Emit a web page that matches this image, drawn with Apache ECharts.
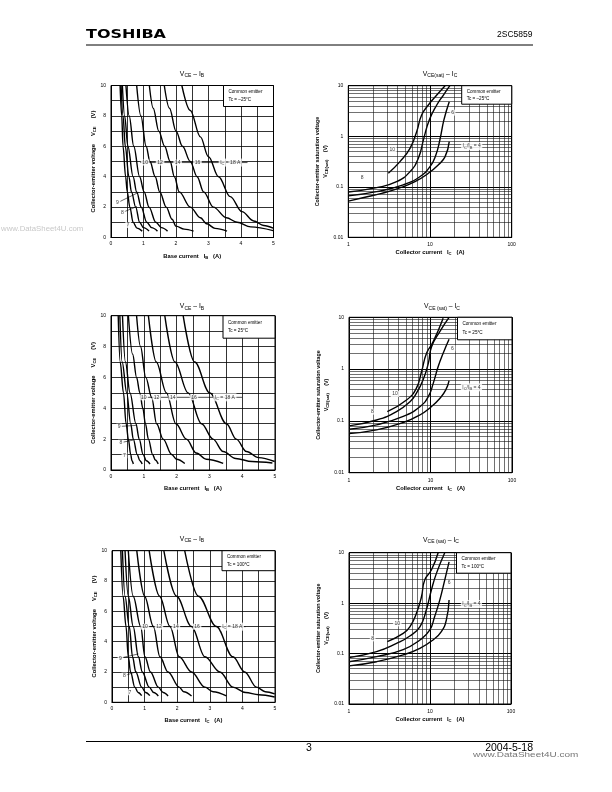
<!DOCTYPE html>
<html>
<head>
<meta charset="utf-8">
<script src="https://cdn.jsdelivr.net/npm/echarts@6/dist/echarts.min.js"></script>
<style>
  html, body { margin: 0; padding: 0; background: #fff; }
  #page { width: 612px; height: 792px; }
</style>
</head>
<body>
<div id="page"></div>
<script>
// ---- VCE - IB curves, [IB (A), VCE (V)] ----
const icLevels = [7, 8, 9, 10, 12, 14, 16, 18];

// Tc = -25 C
const tm25_ic7  = [[0.28,10],[0.33,8],[0.37,6],[0.45,4],[0.5,3],[0.58,2],[0.68,1],[0.8,0.62],[0.96,0.42]];
const tm25_ic8  = [[0.31,10],[0.37,8],[0.44,6],[0.55,4],[0.63,3],[0.76,2],[0.88,1],[1.0,0.65],[1.17,0.42]];
const tm25_ic9  = [[0.35,10],[0.42,8],[0.52,6],[0.68,4],[0.79,3],[0.93,2],[1.1,1],[1.25,0.65],[1.43,0.42]];
const tm25_ic10 = [[0.46,10],[0.56,8],[0.7,6],[0.88,4],[1.02,3],[1.17,2],[1.38,1],[1.55,0.65],[1.74,0.42]];
const tm25_ic12 = [[0.79,10],[0.92,8],[1.08,6],[1.2,5],[1.36,4],[1.5,3],[1.7,2],[1.88,1.2],[2.0,0.75],[2.25,0.55],[2.54,0.42]];
const tm25_ic14 = [[1.18,10],[1.3,8.5],[1.47,7],[1.65,6],[1.82,5],[1.95,4],[2.1,3],[2.44,2],[2.75,1.3],[2.95,0.9],[3.2,0.6],[3.57,0.42]];
const tm25_ic16 = [[1.64,10],[1.8,8.5],[2.0,7],[2.2,6],[2.44,5],[2.65,4],[2.85,3],[3.15,2],[3.55,1.3],[3.88,1.0],[4.3,0.7],[4.99,0.45]];
const tm25_ic18 = [[2.18,10],[2.44,8.36],[2.75,6.62],[3.0,5.31],[3.31,4.0],[3.67,2.69],[4.03,1.7],[4.39,1.09],[4.7,0.79],[4.99,0.61]];

// Tc = 25 C
const t25_ic7  = [[0.22,10],[0.28,7],[0.38,5],[0.46,3],[0.53,2],[0.6,1],[0.64,0.6],[0.68,0.39]];
const t25_ic8  = [[0.27,10],[0.34,7],[0.48,5],[0.6,3],[0.68,2],[0.8,1],[0.88,0.6],[0.95,0.39]];
const t25_ic9  = [[0.35,10],[0.44,7],[0.58,5],[0.76,3],[0.86,2],[0.98,1],[1.08,0.6],[1.19,0.39]];
const t25_ic10 = [[0.53,10],[0.66,7.5],[0.78,6],[0.88,5],[0.97,4],[1.05,3],[1.14,2],[1.27,1],[1.35,0.65],[1.44,0.4]];
const t25_ic12 = [[0.78,10],[0.9,8],[1.06,6],[1.24,4.7],[1.39,3],[1.59,2],[1.85,1],[2.0,0.7],[2.25,0.42]];
const t25_ic14 = [[1.14,10],[1.38,7],[1.69,5],[1.98,3],[2.3,2],[2.6,1.1],[2.9,0.7],[3.42,0.43]];
const t25_ic16 = [[1.64,10],[1.95,7],[2.35,5],[2.76,3],[3.11,2],[3.42,1.2],[3.8,0.75],[4.3,0.55],[4.92,0.45]];
const t25_ic18 = [[2.2,10],[2.55,7],[3.01,5],[3.52,3],[3.82,2],[4.13,1.2],[4.5,0.8],[4.99,0.55]];

// Tc = 100 C
const t100_ic7  = [[0.27,10],[0.34,7],[0.43,5],[0.5,3],[0.57,2],[0.7,1],[0.8,0.65],[0.91,0.44]];
const t100_ic8  = [[0.32,10],[0.4,7],[0.53,5],[0.63,3],[0.73,2],[0.91,1],[1.03,0.65],[1.16,0.44]];
const t100_ic9  = [[0.4,10],[0.5,7],[0.65,5],[0.81,3],[0.93,2],[1.14,1],[1.28,0.65],[1.42,0.42]];
const t100_ic10 = [[0.5,10],[0.65,7],[0.88,5],[1.01,3],[1.18,2],[1.42,1],[1.57,0.65],[1.72,0.42]];
const t100_ic12 = [[0.76,10],[1.0,7],[1.27,5],[1.47,3],[1.72,2],[2.06,1],[2.2,0.7],[2.44,0.42]];
const t100_ic14 = [[1.14,10],[1.46,7],[1.78,5],[2.06,3],[2.44,2],[2.85,1],[3.1,0.7],[3.51,0.42]];
const t100_ic16 = [[1.59,10],[1.98,7],[2.44,5],[2.85,3],[3.31,2],[3.71,1],[4.1,0.65],[4.5,0.5],[4.99,0.35]];
const t100_ic18 = [[2.23,10],[2.65,7],[3.2,5],[3.71,3],[4.07,2],[4.43,1],[4.7,0.7],[4.99,0.55]];

// ---- VCE(sat) - IC curves, [IC (A), VCE(sat) (V)], IC/IB = 10, 8, 6, 4 ----
const satM25_r10 = [[3.09,0.185],[4.29,0.314],[5.69,0.576],[6.87,1.23],[7.9,2.63],[9.55,4.15],[12.1,6.53],[15.3,10]];
const satM25_r8  = [[1,0.079],[2.22,0.096],[3.9,0.126],[5.69,0.199],[7.2,0.366],[8.4,0.908],[9.8,2.1],[12.1,4.15],[14.6,6.53],[17.5,10]];
const satM25_r6  = [[1,0.066],[2.22,0.08],[4.7,0.109],[7.5,0.158],[10,0.25],[11.8,0.426],[13.2,0.843],[14.8,2.1],[17.2,4.83]];
const satM25_r4  = [[1,0.052],[1.6,0.062],[2.56,0.074],[4.1,0.093],[6.55,0.126],[9.55,0.185],[12.6,0.27],[15.3,0.394],[17.2,0.78]];

const sat25_r10 = [[2.95,0.151],[5.08,0.253],[6.7,0.425],[7.76,0.89],[8.94,2.02],[10.8,3.39],[14.3,9.6]];
const sat25_r8  = [[1,0.08],[2.18,0.104],[3.83,0.151],[5.6,0.235],[6.7,0.34],[8.1,0.615],[9.4,1.29],[10.3,2.71],[13,5.3],[16.9,10]];
const sat25_r6  = [[1,0.069],[2.18,0.084],[4.63,0.122],[7.4,0.188],[9.4,0.294],[10.8,0.53],[12.4,1.11],[14.3,2.02],[16.9,3.76]];
const sat25_r4  = [[1,0.057],[2.18,0.067],[4.63,0.093],[7.4,0.13],[10.3,0.19],[13,0.27],[15.4,0.396],[16.9,0.6]];

const sat100_r10 = [[2.97,0.172],[4.67,0.251],[5.64,0.34],[6.8,0.627],[7.85,1.34],[8.6,2.87],[10.4,4.53],[12.6,10]];
const sat100_r8  = [[1,0.083],[2.19,0.109],[3.86,0.159],[5.64,0.223],[7.5,0.34],[9.0,0.73],[10.4,1.82],[12.0,3.89],[15.2,10]];
const sat100_r6  = [[1,0.069],[2.19,0.087],[4.67,0.12],[7.5,0.186],[9.9,0.29],[11.4,0.538],[13.2,1.15],[15.2,2.87],[17.2,6.6]];
const sat100_r4  = [[1,0.057],[2.19,0.069],[4.67,0.094],[7.5,0.127],[10.9,0.186],[13.8,0.272],[15.9,0.46],[17.2,1.15]];

// ---- tick / grid values ----
const linXTicks = [0, 1, 2, 3, 4, 5];
const linYTicks = [0, 2, 4, 6, 8, 10];
const logXMinor = [2,3,4,5,6,7,8,9,20,30,40,50,60,70,80,90];
const logYMinor = [0.02,0.03,0.04,0.05,0.06,0.07,0.08,0.09,0.2,0.3,0.4,0.5,0.6,0.7,0.8,0.9,2,3,4,5,6,7,8,9];

// ---- curve labels [x, y, text] ----
const lblM25 = [[1.05,4.93,'10'],[1.51,4.93,'12'],[2.05,4.93,'14'],[2.66,4.93,'16'],[3.67,4.93,'I{s|C} = 18 A'],[0.2,2.27,'9'],[0.35,1.64,'8'],[0.53,0.82,'7']];
const lbl25  = [[1.0,4.71,'10'],[1.39,4.71,'12'],[1.88,4.71,'14'],[2.53,4.71,'16'],[3.47,4.71,'I{s|C} = 18 A'],[0.25,2.81,'9'],[0.3,1.77,'8'],[0.41,0.95,'7']];
const lbl100 = [[1.01,4.99,'10'],[1.44,4.99,'12'],[1.96,4.99,'14'],[2.61,4.99,'16'],[3.69,4.99,'I{s|C} = 18 A'],[0.26,2.9,'9'],[0.38,1.76,'8'],[0.55,0.66,'7']];
const leadM25 = [[0.9,4.93],[4.2,4.93]];
const lead25  = [[0.88,4.71],[4.0,4.71]];
const lead100 = [[0.88,4.99],[4.1,4.99]];
const arrM25 = [[[0.26,2.35],[0.85,2.97]], [[0.41,1.7],[0.8,2.04]]];
const arr25  = [[[0.31,2.83],[0.76,2.89]], [[0.36,1.8],[0.68,1.94]]];
const arr100 = [[[0.32,2.95],[0.81,3.19]], [[0.44,1.8],[0.76,2.02]]];

const lblSatM25 = [[3.46,0.55,'10'],[1.48,0.154,'8'],[18.9,2.93,'6'],[32.4,0.64,'I{s|C}/I{s|B} = 4']];
const lblSat25  = [[3.66,0.33,'10'],[1.93,0.151,'8'],[18.6,2.52,'6'],[31.8,0.445,'I{s|C}/I{s|B} = 4']];
const lblSat100 = [[3.94,0.397,'10'],[1.96,0.2,'8'],[17.2,2.54,'6'],[32.5,0.96,'I{s|C}/I{s|B} = 4']];

// ---- layout ----
const FONT = 'Liberation Sans';
const grids = [
  { left: 111,   top: 85.5,  width: 162.5, height: 152 },
  { left: 348.3, top: 85.7,  width: 163.4, height: 151.6 },
  { left: 111,   top: 315.7, width: 164,   height: 154.3 },
  { left: 349,   top: 317.3, width: 163,   height: 155.4 },
  { left: 112,   top: 550.7, width: 163,   height: 151.6 },
  { left: 349,   top: 552.7, width: 162,   height: 151.3 }
];
const subRich = { s: { fontSize: 4.2, fontFamily: FONT, padding: [3, 0, 0, 0], fontWeight: 'bold' } };
const subRichN = { s: { fontSize: 4, fontFamily: FONT, padding: [3, 0, 0, 0] } };

const chart = echarts.init(document.getElementById('page'), null, { renderer: 'canvas' });

const xAxes = [];
const yAxes = [];
const series = [];

function linAxes(gi, xName) {
  xAxes.push({
    gridIndex: gi, type: 'value', min: 0, max: 5, interval: 1,
    axisLine: { show: true, lineStyle: { color: '#000', width: 1 } },
    axisTick: { show: false },
    axisLabel: { fontSize: 5, color: '#000', margin: 4, fontFamily: FONT,
      customValues: linXTicks },
    splitLine: { show: true, lineStyle: { color: '#000', width: 0.8 } },
    minorTick: { show: false, splitNumber: 2 },
    minorSplitLine: { show: true, lineStyle: { color: '#000', width: 0.8 } },
    name: xName, nameLocation: 'middle', nameGap: 15,
    nameTextStyle: { fontSize: 5.8, fontWeight: 'bold', color: '#000', fontFamily: FONT, rich: subRich }
  });
  yAxes.push({
    gridIndex: gi, type: 'value', min: 0, max: 10, interval: 2,
    axisLine: { show: true, lineStyle: { color: '#000', width: 1 } },
    axisTick: { show: false },
    axisLabel: { fontSize: 5, color: '#000', margin: 5, fontFamily: FONT },
    splitLine: { show: true, lineStyle: { color: '#000', width: 0.8 } },
    minorTick: { show: false, splitNumber: 2 },
    minorSplitLine: { show: true, lineStyle: { color: '#000', width: 0.8 } },
    name: 'Collector-emitter voltage     V{s|CE}     (V)', nameLocation: 'middle', nameGap: 11, nameRotate: 90,
    nameTextStyle: { fontSize: 5.8, fontWeight: 'bold', color: '#000', fontFamily: FONT, rich: subRich }
  });
}

function logAxes(gi) {
  const fmt = v => String(+Number(v).toPrecision(3));
  xAxes.push({
    gridIndex: gi, type: 'log', logBase: 10, min: 1, max: 100,
    axisLine: { show: true, lineStyle: { color: '#000', width: 1 } },
    axisTick: { show: false },
    axisLabel: { fontSize: 5, color: '#000', margin: 5, fontFamily: FONT, formatter: fmt },
    splitLine: { show: true, lineStyle: { color: '#000', width: 1 } },
    name: 'Collector current   I{s|C}   (A)', nameLocation: 'middle', nameGap: 12,
    nameTextStyle: { fontSize: 5.8, fontWeight: 'bold', color: '#000', fontFamily: FONT, rich: subRich }
  });
  yAxes.push({
    gridIndex: gi, type: 'log', logBase: 10, min: 0.01, max: 10,
    axisLine: { show: true, lineStyle: { color: '#000', width: 1 } },
    axisTick: { show: false },
    axisLabel: { fontSize: 5, color: '#000', margin: 5, fontFamily: FONT, formatter: fmt },
    splitLine: { show: true, lineStyle: { color: '#000', width: 1 } },
    name: 'Collector-emitter saturation voltage\nV{s|CE(sat)}     (V)', nameLocation: 'middle', nameGap: 18, nameRotate: 90,
    nameTextStyle: { fontSize: 5.3, fontWeight: 'bold', color: '#000', fontFamily: FONT, lineHeight: 8, rich: subRich }
  });
  // decade sub-grid through the log scales
  series.push({
    type: 'line', xAxisIndex: gi, yAxisIndex: gi, data: [[1, 0.01]], showSymbol: false, silent: true,
    lineStyle: { width: 0 },
    markLine: {
      silent: true, symbol: ['none', 'none'], label: { show: false }, animation: false,
      lineStyle: { color: '#111', width: 0.6, type: 'solid' },
      data: logXMinor.map(v => ({ xAxis: v })).concat(logYMinor.map(v => ({ yAxis: v })))
    }
  });
}

function curves(gi, list, isLog) {
  list.forEach(d => series.push({
    type: 'line', xAxisIndex: gi, yAxisIndex: gi, data: d,
    smooth: isLog ? 0.5 : 0.35, smoothMonotone: isLog ? null : 'x',
    showSymbol: false, symbol: 'none', silent: true,
    lineStyle: { color: '#000', width: 1.4 }, z: 3
  }));
}

function labels(gi, list, arrows) {
  const s = {
    type: 'scatter', xAxisIndex: gi, yAxisIndex: gi, symbolSize: 1, silent: true,
    itemStyle: { color: 'rgba(0,0,0,0)' }, z: 6,
    data: list.map(l => ({ value: [l[0], l[1]], label: { formatter: l[2] } })),
    label: { show: true, position: 'inside', fontSize: 5, color: '#000', fontFamily: FONT,
      backgroundColor: '#fff', padding: [0.5, 1.5], rich: subRichN }
  };
  if (arrows) {
    s.markLine = {
      silent: true, symbol: ['none', 'arrow'], symbolSize: [0, 3.5], label: { show: false }, animation: false,
      lineStyle: { color: '#000', width: 0.6, type: 'solid' },
      data: arrows.map(a => [{ coord: a[0] }, { coord: a[1] }])
    };
  }
  series.push(s);
}

function lead(gi, d) {
  series.push({
    type: 'line', xAxisIndex: gi, yAxisIndex: gi, data: d, showSymbol: false, silent: true,
    lineStyle: { color: '#000', width: 0.7 }, z: 4
  });
}

// left column: VCE - IB, right column: VCE(sat) - IC
linAxes(0, 'Base current   I{s|B}   (A)');
curves(0, [tm25_ic7, tm25_ic8, tm25_ic9, tm25_ic10, tm25_ic12, tm25_ic14, tm25_ic16, tm25_ic18]);
lead(0, leadM25); labels(0, lblM25, arrM25);

logAxes(1);
curves(1, [satM25_r10, satM25_r8, satM25_r6, satM25_r4], true);
labels(1, lblSatM25);

linAxes(2, 'Base current   I{s|B}   (A)');
curves(2, [t25_ic7, t25_ic8, t25_ic9, t25_ic10, t25_ic12, t25_ic14, t25_ic16, t25_ic18]);
lead(2, lead25); labels(2, lbl25, arr25);

logAxes(3);
curves(3, [sat25_r10, sat25_r8, sat25_r6, sat25_r4], true);
labels(3, lblSat25);

linAxes(4, 'Base current   I{s|C}   (A)');
curves(4, [t100_ic7, t100_ic8, t100_ic9, t100_ic10, t100_ic12, t100_ic14, t100_ic16, t100_ic18]);
lead(4, lead100); labels(4, lbl100, arr100);

logAxes(5);
curves(5, [sat100_r10, sat100_r8, sat100_r6, sat100_r4], true);
labels(5, lblSat100);

// ---- page texts ----
const titleRich = { s: { fontSize: 5, fontFamily: FONT, padding: [3.5, 0, 0, 0] } };
function txt(x, y, text, size, opts) {
  return Object.assign({
    type: 'text', x: x, y: y, silent: true, z: 10,
    style: Object.assign({ text: text, fontSize: size, fontFamily: FONT, fill: '#000',
      align: 'left', verticalAlign: 'middle', rich: titleRich }, (opts && opts.style) || {})
  }, (opts && opts.el) || {});
}
const titles = [
  [192, 74, 'V{s|CE} – I{s|B}'],
  [440, 74, 'V{s|CE(sat)} – I{s|C}'],
  [192, 306.5, 'V{s|CE} – I{s|B}'],
  [442, 306.5, 'V{s|CE (sat)} – I{s|C}'],
  [192, 539, 'V{s|CE} – I{s|B}'],
  [441, 540, 'V{s|CE (sat)} – I{s|C}']
];
const boxTexts = ['Tc = –25°C', 'Tc = –25°C', 'Tc = 25°C', 'Tc = 25°C', 'Tc = 100°C', 'Tc = 100°C'];
const boxW = [50, 50, 52, 54.5, 53, 54.5];
const boxH = [21, 18.5, 22.5, 22.5, 20, 20.5];

const graphic = [];
graphic.push(txt(86, 35, 'TOSHIBA', 12.5, { style: { fontFamily: 'DejaVu Sans', fontWeight: 'bold' }, el: { scaleX: 1.28 } }));
graphic.push(txt(532.5, 35, '2SC5859', 8.5, { style: { align: 'right' } }));
graphic.push({ type: 'line', silent: true, shape: { x1: 86, y1: 45, x2: 533, y2: 45 }, style: { stroke: '#000', lineWidth: 1 } });
graphic.push({ type: 'line', silent: true, shape: { x1: 86, y1: 741.5, x2: 533, y2: 741.5 }, style: { stroke: '#000', lineWidth: 1 } });
graphic.push(txt(306, 748, '3', 10.5));
graphic.push(txt(533, 748, '2004-5-18', 10.5, { style: { align: 'right' } }));
graphic.push(txt(473, 755, 'www.DataSheet4U.com', 7.5, { style: { fill: '#777' }, el: { scaleX: 1.33 } }));
graphic.push(txt(1, 229.5, 'www.DataSheet4U.com', 6.5, { style: { fill: '#c8c8c8' }, el: { scaleX: 1.2 } }));

titles.forEach(t => graphic.push(txt(t[0], t[1], t[2], 6.8, { style: { align: 'center' } })));

grids.forEach((g, i) => {
  const x0 = g.left + g.width - boxW[i];
  const y0 = g.top;
  graphic.push({ type: 'rect', silent: true, z: 9, shape: { x: x0, y: y0, width: boxW[i], height: boxH[i] },
    style: { fill: '#fff', stroke: '#000', lineWidth: 1 } });
  graphic.push(txt(x0 + 5, y0 + boxH[i] * 0.3, 'Common emitter', 4.6));
  graphic.push(txt(x0 + 5, y0 + boxH[i] * 0.68, boxTexts[i], 4.6));
});

chart.setOption({
  animation: false,
  textStyle: { fontFamily: FONT },
  grid: grids.map(g => Object.assign({ show: true, borderColor: '#000', borderWidth: 1, containLabel: false }, g)),
  xAxis: xAxes,
  yAxis: yAxes,
  series: series,
  graphic: graphic
});
</script>
</body>
</html>
